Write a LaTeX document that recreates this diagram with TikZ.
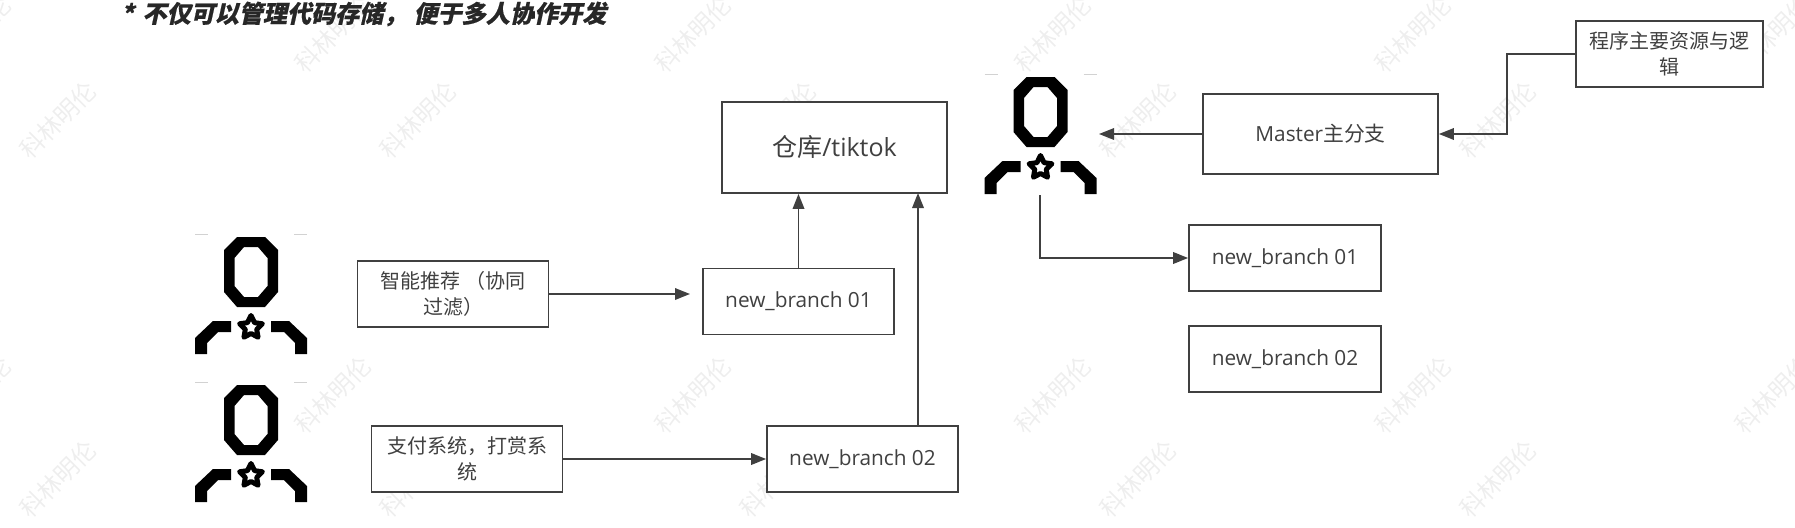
\documentclass[tikz,border=0pt]{standalone}
\usepackage{fontspec}
\setmainfont{Open Sans}
\newfontfamily\cjk{Noto Sans CJK SC}
\newfontfamily\cjkt[FakeSlant=0.22,FakeBold=0.6]{Noto Sans CJK SC}
\usetikzlibrary{arrows.meta}
\definecolor{ink}{HTML}{404040}
\definecolor{wmc}{HTML}{EEEEEE}
\newcommand{\nudge}[2]{\raisebox{#1}{#2}}
\tikzset{
  x=1pt,y=-1pt,
  box/.style={draw=ink,fill=white,line width=1.7pt,rectangle,inner sep=0pt,align=center,text=ink,
    font=\fontsize{20.8}{26}\selectfont},
  cjkbox/.style={box,font=\fontsize{20}{26}\selectfont\cjk},
  conn/.style={draw=ink,line width=1.8pt,-{Triangle[length=15pt,width=11.5pt]}},
  wm/.style={text=wmc,rotate=45,inner sep=0pt,font=\fontsize{24}{24}\selectfont\cjk},
  person/.pic={
    \fill[even odd rule,black] (-14,0)--(14,0)--(27,13)--(27,55)--(14,70)--(-14,70)--(-27,55)--(-27,13)--cycle
      (-7,10)--(7,10)--(16.5,21)--(16.5,49)--(7,60)--(-7,60)--(-16.5,49)--(-16.5,21)--cycle;
    \fill[black] (-56,117)--(-56,101)--(-38,84)--(-20,84)--(-20,95)--(-33,95)--(-44,106)--(-44,117)--cycle;
    \fill[black] (56,117)--(56,101)--(38,84)--(20,84)--(20,95)--(33,95)--(44,106)--(44,117)--cycle;
    \draw[black,line width=5pt,line join=round,fill=white,shift={(0,90.5)}]
      (270:12)--(306:6)--(342:12)--(18:6)--(54:12)--(90:6)--(126:12)--(162:6)--(198:12)--(234:6)--cycle;
    \draw[gray!35,line width=1pt] (-56,-3)--(-43,-3) (43,-3)--(56,-3);
  }
}
\begin{document}
\begin{tikzpicture}
\useasboundingbox (0,0) rectangle (1795,527);
% watermarks
\foreach \i/\px/\py in {a0/-27/34,a1/333/34,a2/693/34,a3/1053/34,a4/1413/34,a5/1773/34,
  b1/58/120,b2/418/120,b3/778/120,b4/1138/120,b5/1498/120,
  c0/-27/395,c1/333/395,c2/693/395,c3/1053/395,c4/1413/395,c5/1773/395,
  d1/58/479,d2/418/479,d3/778/479,d4/1138/479,d5/1498/479}
  {\node[wm] (w\i) at (\px,\py) {科林明伦};}
% title
\node[anchor=west,inner sep=0pt,text=ink!60!black,font=\fontsize{24.1}{26}\selectfont\bfseries\cjkt] (title) at (121,14)
  {*\hspace{0.35em}不仅可以管理代码存储，\hspace{0.25em}便于多人协作开发};
% persons
\pic (p1) at (251,237) {person};
\pic (p2) at (251,385) {person};
\pic (p3) at (1040.5,77) {person};
\coordinate (p3r) at (1099,134);
\coordinate (p3b) at (1040,195);
% boxes
\node[box,minimum width=225pt,minimum height=91pt,font=\fontsize{25}{26}\selectfont] (repo) at (834.5,147.5) {\nudge{-3pt}{{\cjk 仓库}/tiktok}};
\node[box,minimum width=235pt,minimum height=80pt] (master) at (1320.5,134) {\nudge{2pt}{Master{\cjk 主分支}}};
\node[cjkbox,minimum width=187pt,minimum height=66pt] (src) at (1669.5,54) {程序主要资源与逻\\辑};
\node[box,minimum width=192pt,minimum height=66pt] (rn1) at (1285,258) {\nudge{-2pt}{new\_branch 01}};
\node[box,minimum width=192pt,minimum height=66pt] (rn2) at (1285,359) {\nudge{-2pt}{new\_branch 02}};
\node[box,minimum width=191pt,minimum height=66pt] (ln1) at (798.5,301.5) {\nudge{-2pt}{new\_branch 01}};
\node[box,minimum width=191pt,minimum height=66pt] (ln2) at (862.5,459) {\nudge{-2pt}{new\_branch 02}};
\node[cjkbox,minimum width=191pt,minimum height=66pt] (rec) at (453,294) {智能推荐 （协同\\过滤）};
\node[cjkbox,minimum width=191pt,minimum height=66pt] (pay) at (467,459) {支付系统，打赏系\\统};
% connector helpers
\coordinate (recend) at (690,294);
\coordinate (up2) at (918,193);
\coordinate (elbow) at (1507,134);
% connectors
\draw[conn] (rec.east) -- (recend);
\draw[conn] (pay.east) -- (ln2.west);
\draw[conn] (ln1.north) -- (ln1.north |- repo.south);
\draw[conn] (ln2.north -| up2) -- (up2);
\draw[conn] (master.west) -- (p3r);
\draw[conn] (src.west) -| (elbow) -- (master.east);
\draw[conn] (p3b) |- (rn1.west);
\end{tikzpicture}
\end{document}
